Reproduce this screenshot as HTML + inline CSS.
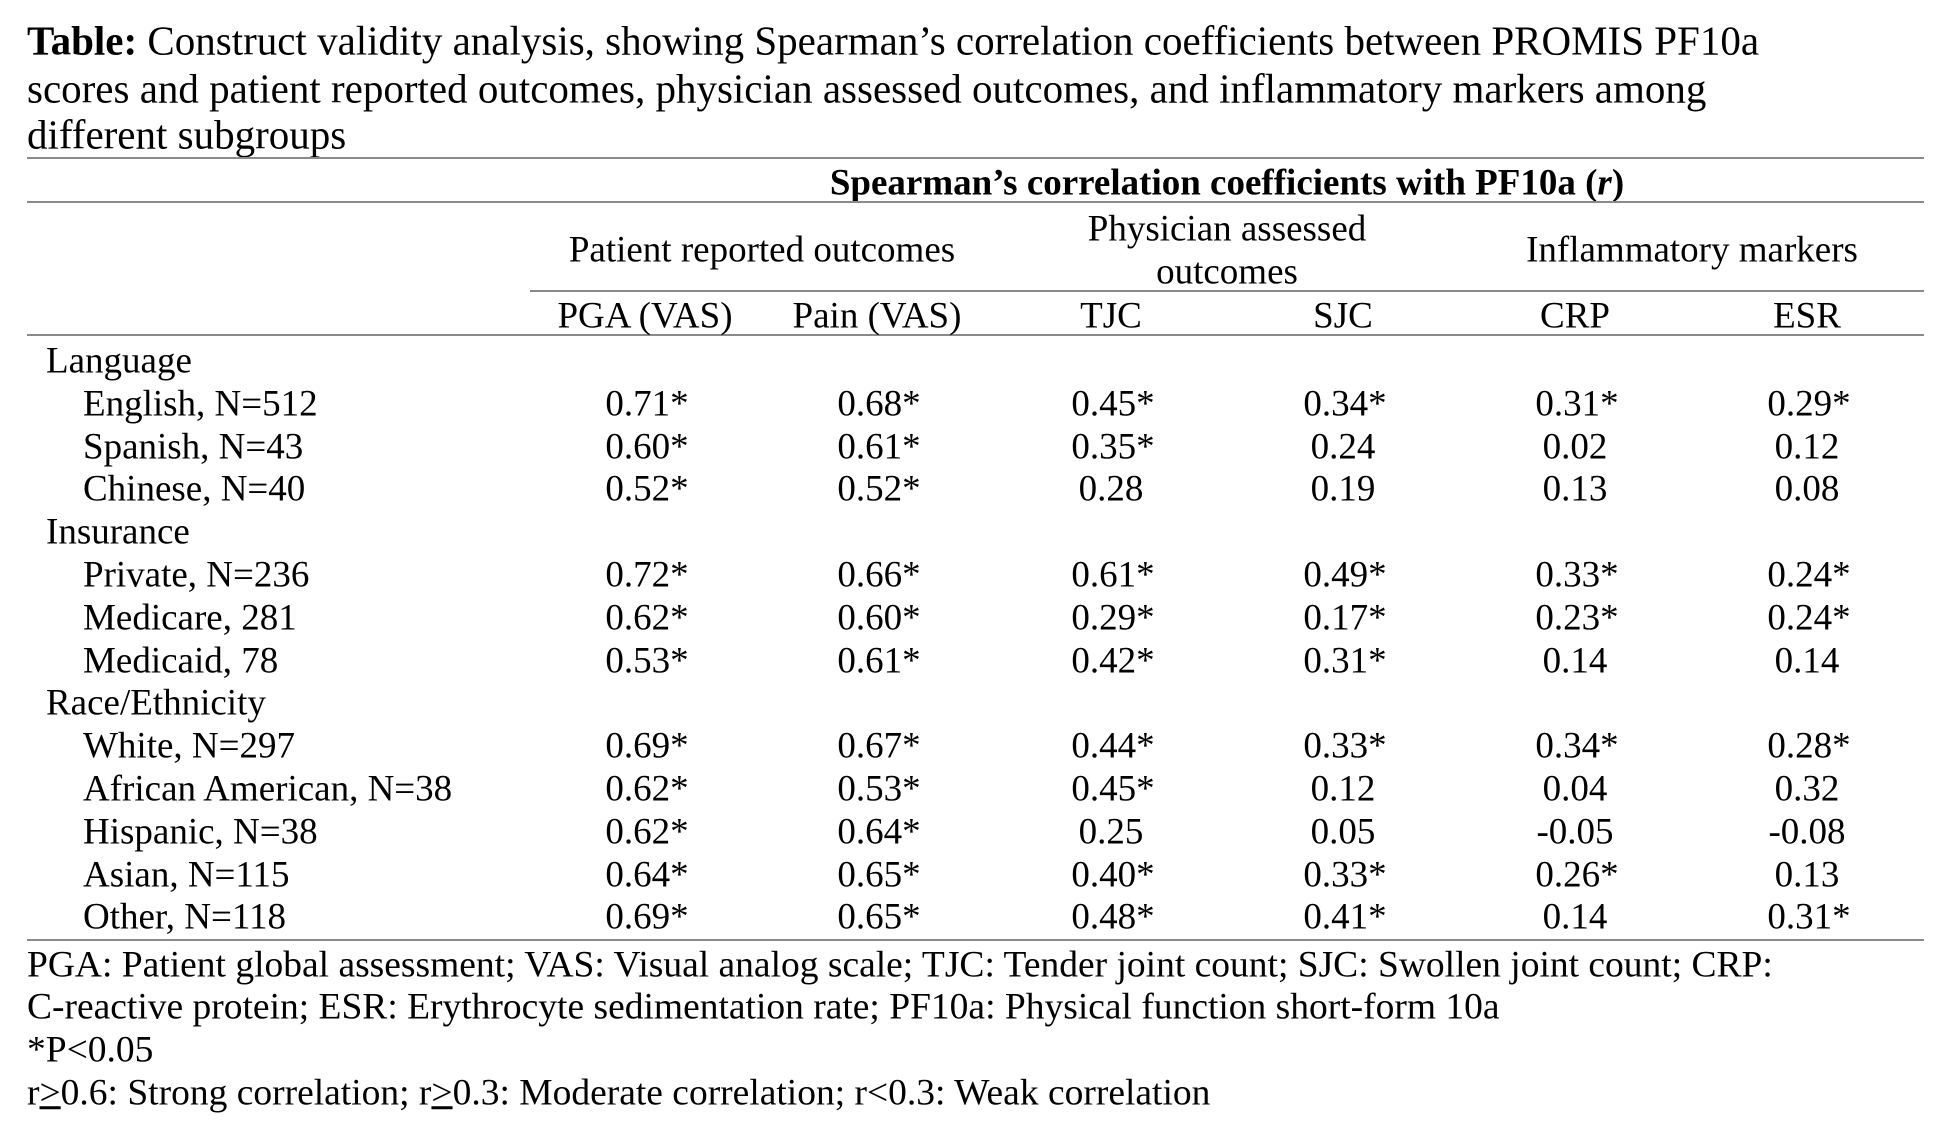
<!DOCTYPE html>
<html><head><meta charset="utf-8">
<style>
html,body{margin:0;padding:0;background:#fff;}
body{width:1946px;height:1136px;position:relative;overflow:hidden;font-family:"Liberation Serif",serif;color:#000;font-size:37px;}
.t{position:absolute;white-space:nowrap;line-height:1;}
.c{transform:translate(-50%,-50%);}
.l{transform:translateY(-50%);}
.ti{font-size:41px;}
.fn{font-size:37.5px;}
.hl{position:absolute;height:2px;background:#8a8a8a;}
</style></head><body>
<div class="t l ti" style="left:27px;top:41px"><b>Table:</b> Construct validity analysis, showing Spearman’s correlation coefficients between PROMIS PF10a</div>
<div class="t l ti" style="left:27px;top:89px">scores and patient reported outcomes, physician assessed outcomes, and inflammatory markers among</div>
<div class="t l ti" style="left:27px;top:135px">different subgroups</div>
<div class="hl" style="left:27px;width:1897px;top:157px"></div>
<div class="t c" style="left:1227px;top:183px;font-weight:bold">Spearman’s correlation coefficients with PF10a (<i>r</i>)</div>
<div class="hl" style="left:27px;width:1897px;top:201px"></div>
<div class="t c" style="left:762px;top:250px">Patient reported outcomes</div>
<div class="t c" style="left:1227px;top:229px">Physician assessed</div>
<div class="t c" style="left:1227px;top:272px">outcomes</div>
<div class="t c" style="left:1692px;top:250px">Inflammatory markers</div>
<div class="hl" style="left:530px;width:1394px;top:290px"></div>
<div class="hl" style="left:27px;width:1897px;top:334px"></div>
<div class="hl" style="left:27px;width:1897px;top:939px"></div>
<div class="t l fn" style="left:27px;top:965px">PGA: Patient global assessment; VAS: Visual analog scale; TJC: Tender joint count; SJC: Swollen joint count; CRP:</div>
<div class="t l fn" style="left:27px;top:1007px">C-reactive protein; ESR: Erythrocyte sedimentation rate; PF10a: Physical function short-form 10a</div>
<div class="t l fn" style="left:27px;top:1050px">*P&lt;0.05</div>
<div class="t l fn" style="left:27px;top:1093px">r<u>&gt;</u>0.6: Strong correlation; r<u>&gt;</u>0.3: Moderate correlation; r&lt;0.3: Weak correlation</div>
<script>
const columns=["PGA (VAS)","Pain (VAS)","TJC","SJC","CRP","ESR"];
const colX=[645,877,1111,1343,1575,1807];
const rowLabels=["Language","English, N=512","Spanish, N=43","Chinese, N=40","Insurance","Private, N=236","Medicare, 281","Medicaid, 78","Race/Ethnicity","White, N=297","African American, N=38","Hispanic, N=38","Asian, N=115","Other, N=118"];
const rowValues=[null,
["0.71*","0.68*","0.45*","0.34*","0.31*","0.29*"],
["0.60*","0.61*","0.35*","0.24","0.02","0.12"],
["0.52*","0.52*","0.28","0.19","0.13","0.08"],
null,
["0.72*","0.66*","0.61*","0.49*","0.33*","0.24*"],
["0.62*","0.60*","0.29*","0.17*","0.23*","0.24*"],
["0.53*","0.61*","0.42*","0.31*","0.14","0.14"],
null,
["0.69*","0.67*","0.44*","0.33*","0.34*","0.28*"],
["0.62*","0.53*","0.45*","0.12","0.04","0.32"],
["0.62*","0.64*","0.25","0.05","-0.05","-0.08"],
["0.64*","0.65*","0.40*","0.33*","0.26*","0.13"],
["0.69*","0.65*","0.48*","0.41*","0.14","0.31*"]];
function mk(txt,cls,x,y){const d=document.createElement('div');d.className='t '+cls;d.style.left=x+'px';d.style.top=y+'px';d.textContent=txt;document.body.appendChild(d);return d;}
columns.forEach((c,i)=>{const d=mk(c,'c',colX[i],316);

});
rowLabels.forEach((lab,r)=>{const y=361+r*42.8;const isGroup=rowValues[r]===null;
const d=mk(lab,'l',isGroup?46:83,y);


if(!isGroup){rowValues[r].forEach((v,i)=>{const x=colX[i]+(v.endsWith('*')?2:0);const e=mk(v,'c',x,y);

});}});
</script>
</body></html>
